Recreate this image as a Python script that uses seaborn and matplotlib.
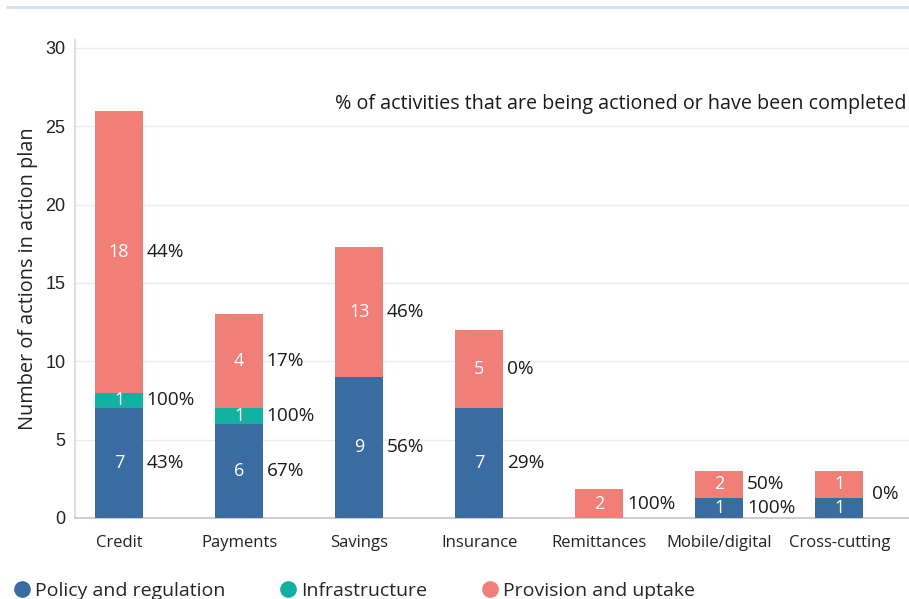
import matplotlib
matplotlib.use("Agg")
import matplotlib.pyplot as plt
from matplotlib.lines import Line2D
import seaborn as sns
import numpy as np
import pandas as pd

categories = ["Credit", "Payments", "Savings", "Insurance", "Remittances", "Mobile/digital", "Cross-cutting"]
# bar heights as drawn
policy = [7, 6, 9, 7, 0, 1.3, 1.3]
infra = [1, 1, 0, 0, 0, 0, 0]
provision = [18, 6, 8.3, 5, 1.85, 1.7, 1.7]
# numbers printed in the segments
policy_txt = ["7", "6", "9", "7", "", "1", "1"]
infra_txt = ["1", "1", "", "", "", "", ""]
provision_txt = ["18", "4", "13", "5", "2", "2", "1"]
# percentages printed beside the segments
policy_pct = ["43%", "67%", "56%", "29%", "", "100%", ""]
infra_pct = ["100%", "100%", "", "", "", "", ""]
provision_pct = ["44%", "17%", "46%", "0%", "100%", "50%", ""]
stack_pct = ["", "", "", "", "", "", "0%"]

series_names = ["Policy and regulation", "Infrastructure", "Provision and uptake"]
colors = ["#3a6ca1", "#13b1a1", "#f07f78"]

sns.set_theme(style="white")
plt.rcParams["font.family"] = ["Open Sans", "DejaVu Sans"]

fig = plt.figure(figsize=(9.09, 5.99), dpi=100)
ax = fig.add_axes([75 / 909, 1 - 518 / 599, 1 - 75 / 909, (518 - 40) / 599])

df = pd.DataFrame({
    "category": categories,
    "policy": policy,
    "infra": infra,
    "provision": provision,
})
df["c2"] = df["policy"] + df["infra"]
df["c3"] = df["c2"] + df["provision"]

for col, colr in [("c3", colors[2]), ("c2", colors[1]), ("policy", colors[0])]:
    sns.barplot(data=df, x="category", y=col, order=categories, color=colr,
                width=0.4, saturation=1, linewidth=0, ax=ax, zorder=3)

ax.set_xlim(-0.367, 6.58)
ax.set_ylim(0, 30.5)
ax.set_yticks([0, 5, 10, 15, 20, 25, 30])
ax.grid(axis="y", color="#ececec", linewidth=1, zorder=0)
ax.set_axisbelow(True)
for s in ["top", "right"]:
    ax.spines[s].set_visible(False)
ax.spines["left"].set_color("#d9d9d9")
ax.spines["bottom"].set_color("#c6c6c6")
ax.spines["bottom"].set_linewidth(1.2)
ax.tick_params(axis="y", labelsize=13, colors="#222222", length=0, pad=7)
ax.tick_params(axis="x", labelsize=12, colors="#222222", length=0, pad=12)
for lab in ax.get_yticklabels():
    lab.set_family(["Liberation Sans", "DejaVu Sans"])
ax.set_xlabel("")
ax.set_ylabel("Number of actions in action plan", fontsize=14.3, color="#222222", labelpad=5)

half = 0.2
for i in range(len(categories)):
    b0 = 0
    segs = [(policy[i], policy_txt[i], policy_pct[i]),
            (infra[i], infra_txt[i], infra_pct[i]),
            (provision[i], provision_txt[i], provision_pct[i])]
    for h, t, p in segs:
        if h > 0:
            yc = b0 + h / 2
            if t:
                ax.text(i, yc, t, ha="center", va="center", color="white", fontsize=13, zorder=5)
            if p:
                ax.text(i + half + 0.03, yc, p, ha="left", va="center", color="#1a1a1a",
                        fontsize=13.7, zorder=5)
        b0 += h
    if stack_pct[i]:
        ax.text(i + half + 0.075, b0 / 2, stack_pct[i], ha="left", va="center",
                color="#1a1a1a", fontsize=13.7, zorder=5)

ax.text(0.997, (518 - 104) / (518 - 40), "% of activities that are being actioned or have been completed",
        transform=ax.transAxes, ha="right", va="center", fontsize=14.2, color="#1a1a1a")

handles = [Line2D([0], [0], marker="o", linestyle="", markersize=11, markerfacecolor=c,
                  markeredgecolor=c) for c in colors]
fig.legend(handles, series_names, loc="center left", bbox_to_anchor=(0.017, 1 - 591 / 599),
           ncol=3, frameon=False, handlelength=0.7, handletextpad=0.3,
           columnspacing=2.9, borderaxespad=0, borderpad=0,
           prop={"family": ["Open Sans", "DejaVu Sans"], "size": 14})

fig.add_artist(Line2D([7 / 909, 1], [1 - 7 / 599, 1 - 7 / 599], transform=fig.transFigure,
                      color="#d3e0ef", linewidth=2))

fig.savefig("out.png", dpi=100)
